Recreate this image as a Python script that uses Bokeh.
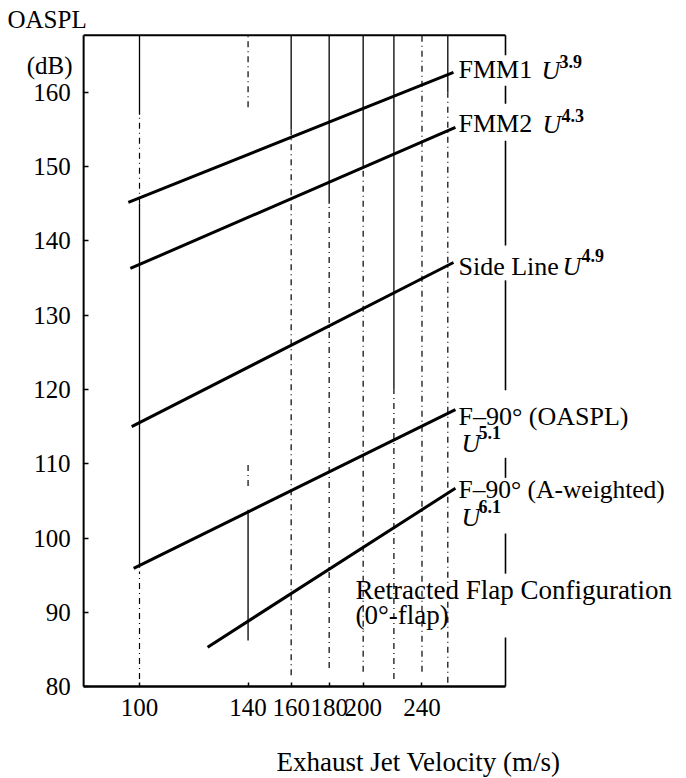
from bokeh.plotting import figure
from bokeh.models import (Range1d, LinearAxis, LogAxis, FixedTicker,
                          NumeralTickFormatter, Label, ColumnDataSource)
from bokeh.embed import file_html
from bokeh.resources import INLINE

SERIF = "Liberation Serif"

# ---------------- data ----------------
velocity_ticks = [100, 140, 160, 180, 200, 240]          # m/s
level_ticks = [80, 90, 100, 110, 120, 130, 140, 150, 160]  # dB

series_names = ["FMM1", "FMM2", "Side Line", "F\u201390\u00b0 (OASPL)", "F\u201390\u00b0 (A-weighted)"]
exponents = ["3.9", "4.3", "4.9", "5.1", "6.1"]
u_start = [96.6, 97.2, 97.6, 98.2, 123.5]
u_end = [264.6, 266.2, 264.6, 266.2, 266.2]
level_start = [145.2, 136.3, 115.0, 95.9, 85.3]
level_end = [162.7, 155.3, 137.1, 117.3, 106.7]

# measurement stations (vertical traces): continuous parts and broken parts
solid_u = [100, 100, 140, 160, 180, 200, 220, 260]
solid_lo = [96.0, 157.0, 86.2, 155.0, 145.0, 150.0, 120.0, 160.0]
solid_hi = [145.0, 167.7, 103.8, 167.7, 167.7, 167.7, 167.7, 167.7]
broken_u = [100, 100, 140, 140, 160, 180, 200, 220, 240, 260]
broken_lo = [81.0, 145.0, 158.0, 107.0, 81.5, 82.5, 82.0, 81.0, 82.0, 80.5]
broken_hi = [95.5, 157.0, 167.7, 110.0, 155.0, 145.0, 150.0, 120.0, 167.7, 160.0]

# chart box (velocity and level limits)
box_u = [84.1, 310.9]
box_level = [80.0, 167.7]
# right edge of the box, interrupted where the curve labels sit
edge_lo = [165.0, 158.5, 139.4, 119.9, 108.1, 95.2, 80.0]
edge_hi = [167.7, 160.9, 153.5, 134.7, 110.8, 100.6, 86.6]

# ---------------- figure ----------------
p = figure(width=686, height=778, output_backend="svg", toolbar_location=None,
           x_axis_type="log", x_axis_location=None, y_axis_location=None,
           x_range=Range1d(65.0, 544.8), y_range=Range1d(67.61, 172.39),
           min_border=0, min_border_left=0, min_border_right=0,
           min_border_top=0, min_border_bottom=0,
           outline_line_color=None, background_fill_color="white",
           border_fill_color="white")
p.grid.visible = False

xaxis = LogAxis(fixed_location=box_level[0],
                ticker=FixedTicker(ticks=velocity_ticks),
                formatter=NumeralTickFormatter(format="0"),
                axis_line_color=None, major_tick_in=4, major_tick_out=0,
                major_tick_line_width=1.5, minor_tick_line_color=None,
                major_label_standoff=12, major_label_text_font=SERIF,
                major_label_text_font_size="25px", major_label_text_color="black")
p.add_layout(xaxis, "below")

yaxis = LinearAxis(fixed_location=box_u[0],
                   ticker=FixedTicker(ticks=level_ticks),
                   axis_line_color=None, major_tick_in=5, major_tick_out=0,
                   major_tick_line_width=1.5, minor_tick_line_color=None,
                   major_label_standoff=13, major_label_text_font=SERIF,
                   major_label_text_font_size="25px", major_label_text_color="black")
p.add_layout(yaxis, "left")

# vertical station traces
p.segment(x0=solid_u, y0=solid_lo, x1=solid_u, y1=solid_hi,
          line_color="black", line_width=1.3)
p.segment(x0=broken_u, y0=broken_lo, x1=broken_u, y1=broken_hi,
          line_color="black", line_width=1.2, line_dash="6 4 1 4")

# box: left, top, bottom, interrupted right edge
p.segment(x0=[box_u[0]], y0=[box_level[0]], x1=[box_u[0]], y1=[box_level[1]],
          line_color="black", line_width=2)
p.segment(x0=[box_u[0]], y0=[box_level[1]], x1=[box_u[1]], y1=[box_level[1]],
          line_color="black", line_width=2)
p.segment(x0=[box_u[0]], y0=[box_level[0]], x1=[box_u[1]], y1=[box_level[0]],
          line_color="black", line_width=2.5)
p.segment(x0=[box_u[1]] * len(edge_lo), y0=edge_lo,
          x1=[box_u[1]] * len(edge_lo), y1=edge_hi,
          line_color="black", line_width=1.6)

# scaling-law lines
src = ColumnDataSource(dict(u0=u_start, u1=u_end, l0=level_start, l1=level_end,
                            name=series_names, n=exponents))
p.segment(x0="u0", y0="l0", x1="u1", y1="l1", source=src,
          line_color="black", line_width=3)

RAISE = 9  # lift text so its baseline sits on the given row


def label(x, y, text, size="26px", style="normal", align="left"):
    p.add_layout(Label(x=x, y=778 - y + RAISE, x_units="screen", y_units="screen",
                       text=text, text_font=SERIF, text_font_size=size,
                       text_font_style=style, text_align=align,
                       text_baseline="alphabetic", text_color="black"))


# axis titles
label(7, 28, "OASPL", size="25px")
label(72, 74, "(dB)", size="25px", align="right")
label(418, 770, "Exhaust Jet Velocity (m/s)", size="27px", align="center")

# curve labels with their velocity exponents
label(458, 78, series_names[0])
label(541, 79, "U", style="italic")
label(559, 70, exponents[0], size="18px", style="bold")

label(458, 132, series_names[1])
label(542, 133, "U", style="italic")
label(561, 124, exponents[1], size="18px", style="bold")

label(458, 275, series_names[2])
label(562, 275, "U", style="italic")
label(581, 264, exponents[2], size="18px", style="bold")

label(458, 425, series_names[3])
label(461, 452, "U", style="italic")
label(478, 441, exponents[3], size="18px", style="bold")

label(458, 498, series_names[4], size="25.5px")
label(461, 526, "U", style="italic")
label(478, 515, exponents[4], size="18px", style="bold")

label(355, 598, "Retracted Flap Configuration", size="27px")
label(355, 623, "(0\u00b0-flap)", size="27px")

open("out.html", "w").write(file_html(p, INLINE))
